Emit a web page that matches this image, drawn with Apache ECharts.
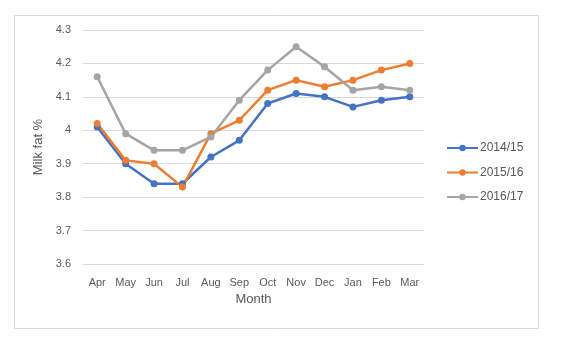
<!DOCTYPE html>
<html><head><meta charset="utf-8">
<script src="https://cdn.jsdelivr.net/npm/echarts@6/dist/echarts.min.js"></script>
<style>html,body{margin:0;padding:0;background:#fff}#c{width:568px;height:341px}</style>
</head><body><div id="c"></div>
<script>
const months = ['Apr','May','Jun','Jul','Aug','Sep','Oct','Nov','Dec','Jan','Feb','Mar'];
const s2014 = [4.01,3.90,3.84,3.84,3.92,3.97,4.08,4.11,4.10,4.07,4.09,4.10];
const s2015 = [4.02,3.91,3.90,3.83,3.99,4.03,4.12,4.15,4.13,4.15,4.18,4.20];
const s2016 = [4.16,3.99,3.94,3.94,3.98,4.09,4.18,4.25,4.19,4.12,4.13,4.12];
const seriesNames = ['2014/15','2015/16','2016/17'];
const colors = ['#4472C4','#ED7D31','#A5A5A5'];
const font = 'Liberation Sans, Arial, sans-serif';
const chart = echarts.init(document.getElementById('c'), null, {renderer:'canvas'});
const mk = (name, data, color) => ({
  name, type:'line', data, color,
  symbol:'circle', symbolSize:7,
  lineStyle:{width:2.5, color}, itemStyle:{color},
  z: 2
});
chart.setOption({
  animation:false,
  backgroundColor:'#fff',
  graphic:[{type:'rect', shape:{x:14.5,y:15.5,width:524,height:313}, style:{fill:'none', stroke:'#d9d9d9', lineWidth:1}, silent:true, z:-1}],
  grid:{left:83, right:144, top:30, bottom:77},
  legend:{
    orient:'vertical', left:446, top:142, padding:0, itemGap:12.5, itemWidth:31, itemHeight:8,
    data:seriesNames,
    textStyle:{color:'#595959', fontSize:12, fontFamily:font, padding:[0,0,0,-3]}
  },
  xAxis:{
    type:'category', data:months, boundaryGap:true,
    name:'Month', nameLocation:'middle', nameGap:28,
    nameTextStyle:{color:'#595959', fontSize:13, fontFamily:font},
    axisLine:{show:false}, axisTick:{show:false},
    axisLabel:{color:'#595959', fontSize:11, fontFamily:font, margin:13}
  },
  yAxis:{
    type:'value', min:3.6, max:4.3, interval:0.1,
    name:'Milk fat %', nameLocation:'middle', nameGap:33, nameRotate:90,
    nameTextStyle:{color:'#595959', fontSize:13, fontFamily:font},
    axisLine:{show:false}, axisTick:{show:false},
    axisLabel:{color:'#595959', fontSize:11, fontFamily:font, margin:12,
      formatter:v=>String(Math.round(v*10)/10)},
    splitLine:{lineStyle:{color:'#d9d9d9', width:1}}
  },
  series:[mk(seriesNames[0], s2014, colors[0]), mk(seriesNames[1], s2015, colors[1]), mk(seriesNames[2], s2016, colors[2])]
});
</script></body></html>
